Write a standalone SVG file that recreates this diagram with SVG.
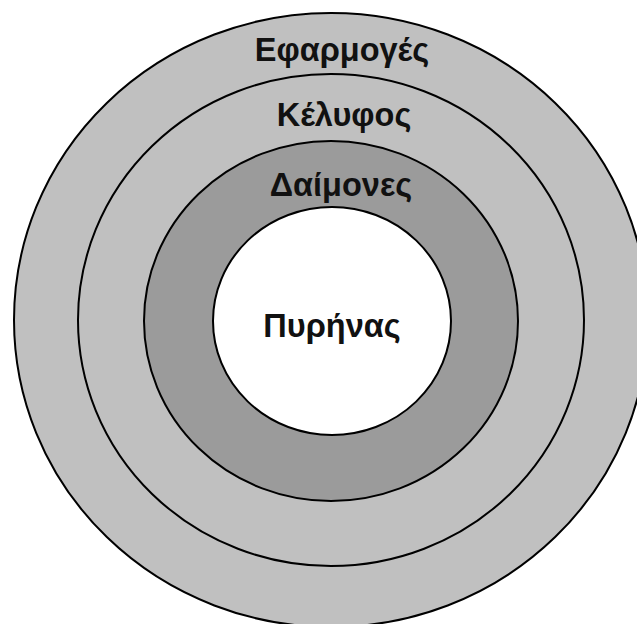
<svg xmlns="http://www.w3.org/2000/svg" width="637" height="624" viewBox="0 0 637 624">
<style>
.ring{stroke:#000;stroke-width:2}
.lbl{font-family:"Liberation Sans",Arial,sans-serif;font-weight:bold;font-size:32.5px;fill:#111;text-anchor:middle}
</style>
<rect width="637" height="624" fill="#fff"/>
<g id="applications">
<ellipse class="ring" cx="331" cy="320" rx="317" ry="307" fill="#c0c0c0"/>
<text class="lbl" x="342" y="61">Εφαρμογές</text>
</g>
<g id="shell">
<ellipse class="ring" cx="331" cy="320" rx="253" ry="246" fill="#c0c0c0"/>
<text class="lbl" x="344" y="126">Κέλυφος</text>
</g>
<g id="daemons">
<ellipse class="ring" cx="331" cy="321" rx="187" ry="180" fill="#9b9b9b"/>
<text class="lbl" x="341" y="196">Δαίμονες</text>
</g>
<g id="kernel">
<ellipse class="ring" cx="332" cy="321" rx="119" ry="114" fill="#fff"/>
<text class="lbl" x="332" y="337">Πυρήνας</text>
</g>
<g id="connectors"/>
</svg>
